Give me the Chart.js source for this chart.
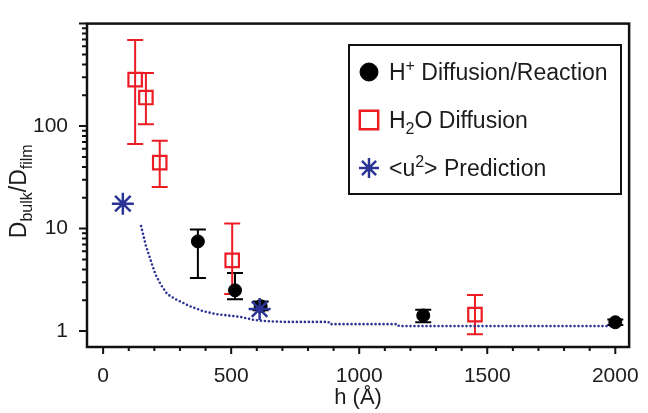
<!DOCTYPE html>
<html>
<head>
<meta charset="utf-8">
<script src="https://cdn.jsdelivr.net/npm/chart.js@4.4.1/dist/chart.umd.min.js"></script>
<style>
html,body{margin:0;padding:0;background:#fff}
</style>
</head>
<body>
<canvas id="myChart" width="648" height="413"></canvas>
<script>
// H+ diffusion/reaction (black)
const hpH = [370, 515, 615, 1250, 2000]
const hpD = [7.5, 2.5, 1.75, 1.42, 1.22]
const hpLow = [3.3, 2.05, 1.6, 1.22, 1.15]
const hpHigh = [9.8, 3.7, 1.95, 1.62, 1.3]
// H2O diffusion (red)
const waterH = [125, 167, 221, 504, 1452]
const waterD = [284, 190, 44, 4.9, 1.45]
const waterLow = [67, 104, 25.5, 2.3, 0.93]
const waterHigh = [690, 330, 72, 11.2, 2.25]
// <u2> prediction (blue stars + dotted curve)
const u2H = [77, 611]
const u2D = [17.5, 1.64]
const predH = [148, 167, 192, 205, 225, 250, 283, 334, 386, 437, 489, 540, 592, 640, 708, 880, 885, 1150, 1155, 2000]
const predD = [10.6, 6.8, 4.4, 3.55, 2.85, 2.3, 2.05, 1.77, 1.58, 1.47, 1.42, 1.37, 1.28, 1.25, 1.23, 1.23, 1.17, 1.17, 1.12, 1.12]

const xTicks = [0, 500, 1000, 1500, 2000]
const yTicks = [1, 10, 100]
const legendLabels = ['H^{+} Diffusion/Reaction', 'H_{2}O Diffusion', '<u^{2}> Prediction']
const xTitle = 'h (Å)'
const yTitle = 'D_{bulk}/D_{film}'

const FONT = '"Liberation Sans", Arial, sans-serif'
const TXT = '#1c1c1c'
const RED = '#ec1c24'
const NAVY = '#2b3494'

function pts(xs, ys){ return xs.map((x, i) => ({x: x, y: ys[i]})) }

function richParts(str){
    const parts = []
    const re = /([_^])\{([^}]*)\}/g
    let last = 0, m
    while ((m = re.exec(str))){
        if (m.index > last) parts.push({t: str.slice(last, m.index), k: ''})
        parts.push({t: m[2], k: m[1]})
        last = re.lastIndex
    }
    if (last < str.length) parts.push({t: str.slice(last), k: ''})
    return parts
}
function drawRich(ctx, str, x, y, size, center){
    const parts = richParts(str)
    const small = Math.round(size * 0.68)
    let w = 0
    parts.forEach(p => { ctx.font = (p.k ? small : size) + 'px ' + FONT; p.w = ctx.measureText(p.t).width; w += p.w })
    let cx = center ? x - w / 2 : x
    ctx.textBaseline = 'alphabetic'
    ctx.textAlign = 'left'
    parts.forEach(p => {
        ctx.font = (p.k ? small : size) + 'px ' + FONT
        const dy = p.k === '^' ? -size * 0.4 : (p.k === '_' ? size * 0.24 : 0)
        ctx.fillText(p.t, cx, y + dy)
        cx += p.w
    })
}

// error bars, drawn under the markers
const errorBars = {
    id: 'errorBars',
    beforeDatasetsDraw(chart){
        const ctx = chart.ctx
        const xs = chart.scales.x, ys = chart.scales.y
        chart.data.datasets.forEach(ds => {
            if (!ds.errLow) return
            ctx.save()
            ctx.strokeStyle = ds.borderColor
            ctx.lineWidth = 2
            ds.data.forEach((p, i) => {
                const px = xs.getPixelForValue(p.x)
                const lo = ys.getPixelForValue(ds.errLow[i])
                const hi = ys.getPixelForValue(ds.errHigh[i])
                ctx.beginPath()
                ctx.moveTo(px, lo); ctx.lineTo(px, hi)
                ctx.moveTo(px - 8, lo); ctx.lineTo(px + 8, lo)
                ctx.moveTo(px - 8, hi); ctx.lineTo(px + 8, hi)
                ctx.stroke()
            })
            ctx.restore()
        })
    }
}

// frame, tick marks, y title and boxed legend
const decorations = {
    id: 'decorations',
    afterDraw(chart){
        const ctx = chart.ctx
        const a = chart.chartArea
        const xs = chart.scales.x, ys = chart.scales.y
        ctx.save()
        ctx.strokeStyle = '#111'
        ctx.lineWidth = 2.5
        ctx.strokeRect(a.left, a.top, a.right - a.left, a.bottom - a.top)

        ctx.lineWidth = 2
        ctx.beginPath()
        for (let v = xTicks[0]; v <= xTicks[xTicks.length - 1]; v += 100){
            const px = xs.getPixelForValue(v)
            const len = xTicks.includes(v) ? 7 : 4
            ctx.moveTo(px, a.bottom); ctx.lineTo(px, a.bottom + len)
        }
        yTicks.forEach(d => {
            for (let k = 1; k <= 10; k++){
                const v = k * d
                if (v > ys.max) continue
                const py = ys.getPixelForValue(v)
                const len = (k === 1 || k === 10) ? 8 : 5
                ctx.moveTo(a.left, py); ctx.lineTo(a.left - len, py)
            }
        })
        ctx.stroke()

        // y title, rotated
        ctx.fillStyle = TXT
        ctx.save()
        ctx.translate(26, (a.top + a.bottom) / 2 + 6)
        ctx.rotate(-Math.PI / 2)
        drawRich(ctx, yTitle, 0, 0, 23, true)
        ctx.restore()

        // legend box
        ctx.lineWidth = 2
        ctx.strokeStyle = '#111'
        ctx.strokeRect(349, 45, 272, 149)
        const rows = [72, 120, 168]
        const legendStyles = [
            {pointStyle: 'circle', radius: 9, fill: '#000', stroke: '#000', bw: 1},
            {pointStyle: 'rect', radius: 13, fill: 'rgba(0,0,0,0)', stroke: RED, bw: 2.5},
            {pointStyle: 'star', radius: 10, fill: NAVY, stroke: NAVY, bw: 2.5}
        ]
        legendStyles.forEach((s, i) => {
            ctx.fillStyle = s.fill
            ctx.strokeStyle = s.stroke
            ctx.lineWidth = s.bw
            Chart.helpers.drawPoint(ctx, {pointStyle: s.pointStyle, radius: s.radius, rotation: 0, borderWidth: s.bw}, 369, rows[i])
            ctx.fillStyle = TXT
            drawRich(ctx, legendLabels[i], 389, rows[i] + 8, 23, false)
        })
        ctx.restore()
    }
}

const ctx = document.getElementById('myChart').getContext('2d')
const myChart = new Chart(ctx, {
    type: 'scatter',
    data: {
        datasets: [{
            label: 'H⁺ Diffusion/Reaction',
            data: pts(hpH, hpD),
            errLow: hpLow,
            errHigh: hpHigh,
            pointStyle: 'circle',
            pointRadius: 6.5,
            backgroundColor: '#000',
            borderColor: '#000',
            borderWidth: 1,
            order: 2
        }, {
            label: 'H₂O Diffusion',
            data: pts(waterH, waterD),
            errLow: waterLow,
            errHigh: waterHigh,
            pointStyle: 'rect',
            pointRadius: 9.5,
            backgroundColor: 'rgba(0,0,0,0)',
            borderColor: RED,
            borderWidth: 2.2,
            order: 3
        }, {
            label: '<u²> Prediction',
            data: pts(u2H, u2D),
            pointStyle: 'star',
            pointRadius: 11,
            backgroundColor: NAVY,
            borderColor: NAVY,
            borderWidth: 2.5,
            order: 1
        }, {
            label: 'prediction curve',
            data: pts(predH, predD),
            showLine: true,
            pointRadius: 0,
            borderColor: NAVY,
            borderWidth: 2.6,
            borderDash: [0, 4],
            borderCapStyle: 'round',
            order: 4
        }]
    },
    options: {
        responsive: false,
        animation: false,
        layout: {padding: {top: 16, right: 13, left: 0, bottom: 0}},
        plugins: {legend: {display: false}, tooltip: {enabled: false}},
        scales: {
            x: {
                type: 'linear',
                min: -63,
                max: 2054,
                grid: {display: false},
                border: {display: false},
                afterBuildTicks: s => { s.ticks = xTicks.map(v => ({value: v})) },
                afterFit: s => { s.height = 66 },
                ticks: {color: TXT, font: {family: FONT, size: 21}, padding: 9, maxRotation: 0, callback: v => String(v)},
                title: {display: true, text: xTitle, color: TXT, font: {family: FONT, size: 22}, padding: {top: 0, bottom: 2}}
            },
            y: {
                type: 'logarithmic',
                min: 0.7,
                max: 1000,
                grid: {display: false},
                border: {display: false},
                afterBuildTicks: s => { s.ticks = yTicks.map(v => ({value: v})) },
                afterFit: s => { s.width = 87 },
                ticks: {color: TXT, font: {family: FONT, size: 21}, padding: 11, callback: v => String(v)}
            }
        }
    },
    plugins: [errorBars, decorations]
})
</script>
</body>
</html>
